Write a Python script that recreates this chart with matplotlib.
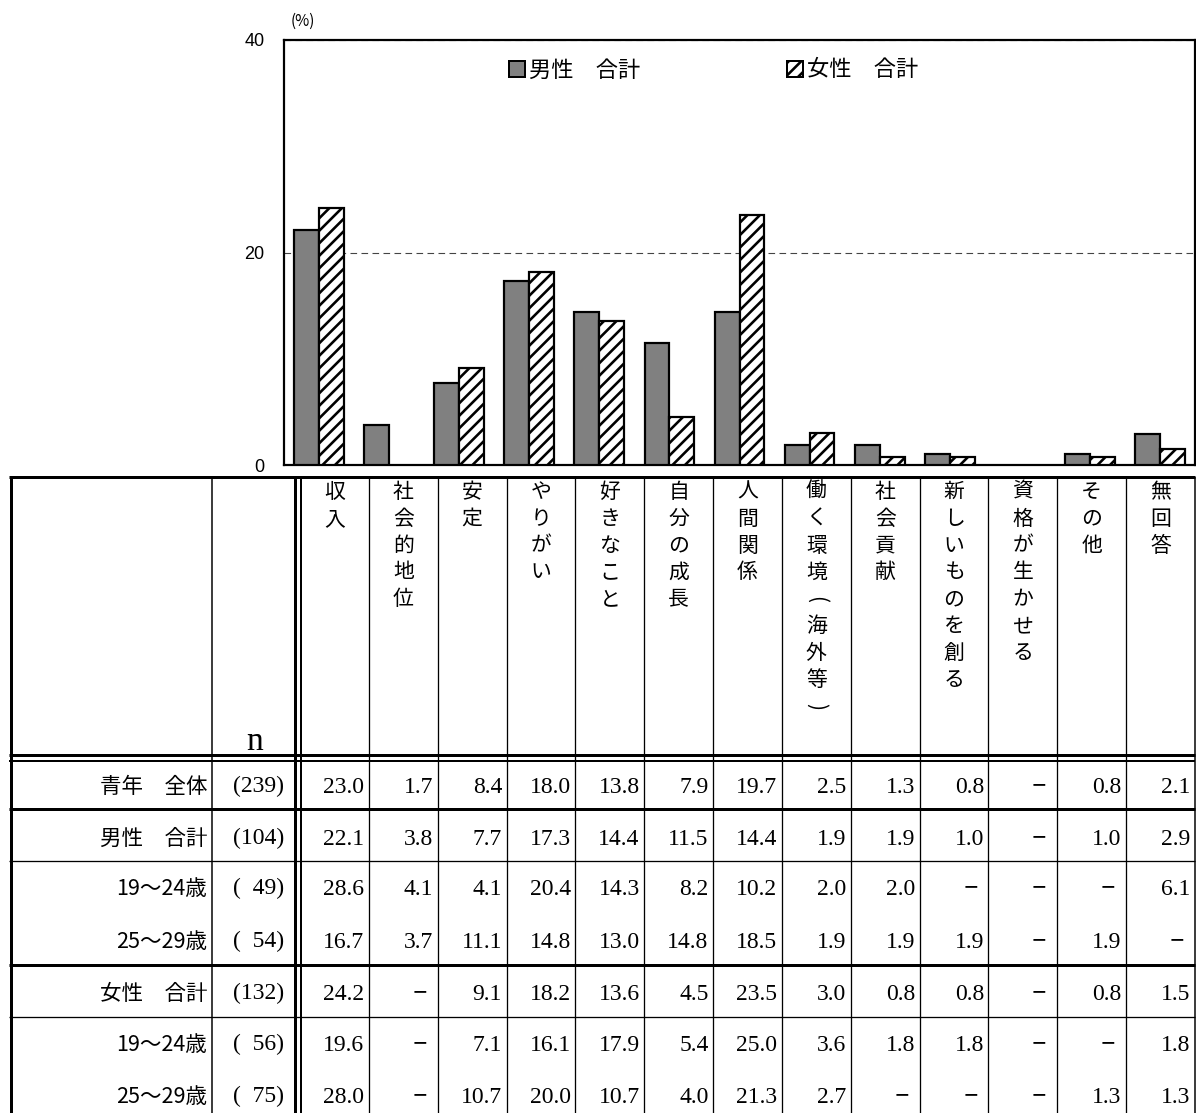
import matplotlib
matplotlib.use('Agg')
import matplotlib.pyplot as plt
import numpy as np
from matplotlib.patches import Patch

DPI = 75          # hatch spacing follows dpi; sizes below are scaled accordingly
K = 100 / DPI     # converts "points at 100 dpi" to points at DPI

def fs(s):
    return s * K

def px(w):
    return w * 72 / DPI

plt.rcParams['font.family'] = ['Noto Sans CJK JP', 'DejaVu Sans']
plt.rcParams['hatch.linewidth'] = px(2.6)

# ---------------- data ----------------
categories = ['収入', '社会的地位', '安定', 'やりがい', '好きなこと', '自分の成長', '人間関係',
              '働く環境（海外等）', '社会貢献', '新しいものを創る', '資格が生かせる', 'その他', '無回答']
row_labels = ['青年　全体', '男性　合計', '19～24歳', '25～29歳', '女性　合計', '19～24歳', '25～29歳']
n_values = [239, 104, 49, 54, 132, 56, 75]
total_all = [23.0, 1.7, 8.4, 18.0, 13.8, 7.9, 19.7, 2.5, 1.3, 0.8, None, 0.8, 2.1]
male_total = [22.1, 3.8, 7.7, 17.3, 14.4, 11.5, 14.4, 1.9, 1.9, 1.0, None, 1.0, 2.9]
male_19_24 = [28.6, 4.1, 4.1, 20.4, 14.3, 8.2, 10.2, 2.0, 2.0, None, None, None, 6.1]
male_25_29 = [16.7, 3.7, 11.1, 14.8, 13.0, 14.8, 18.5, 1.9, 1.9, 1.9, None, 1.9, None]
female_total = [24.2, None, 9.1, 18.2, 13.6, 4.5, 23.5, 3.0, 0.8, 0.8, None, 0.8, 1.5]
female_19_24 = [19.6, None, 7.1, 16.1, 17.9, 5.4, 25.0, 3.6, 1.8, 1.8, None, None, 1.8]
female_25_29 = [28.0, None, 10.7, 20.0, 10.7, 4.0, 21.3, 2.7, None, None, None, 1.3, 1.3]
table_rows = [total_all, male_total, male_19_24, male_25_29, female_total, female_19_24, female_25_29]
legend_labels = ['男性　合計', '女性　合計']
yticks = [0, 20, 40]
unit_label = '(%)'
n_header = 'n'

# ---------------- figure ----------------
W, H = 1196, 1113
fig = plt.figure(figsize=(W / DPI, H / DPI), dpi=DPI)

ax_left, ax_right, ax_top, ax_bot = 284, 1195, 40, 465
ax = fig.add_axes([ax_left / W, 1 - ax_bot / H, (ax_right - ax_left) / W, (ax_bot - ax_top) / H])

def to_arr(v):
    return np.array([np.nan if x is None else x for x in v], dtype=float)

x = np.arange(len(categories))
bw = 0.355
ax.bar(x - bw / 2, to_arr(male_total), bw, color='#808080', edgecolor='black', linewidth=px(2.2), zorder=3)
ax.bar(x + bw / 2, to_arr(female_total), bw, color='white', edgecolor='black', linewidth=px(2.2),
       hatch='//', zorder=3)

ax.set_xlim(-0.5, len(categories) - 0.5)
ax.set_ylim(yticks[0], yticks[-1])
ax.set_yticks(yticks)
ax.set_yticklabels([str(t) for t in yticks], fontfamily='Liberation Sans', fontsize=fs(13))
ax.set_xticks([])
ax.tick_params(axis='y', length=0, pad=fs(14))
ax.yaxis.grid(True, linestyle=(0, (6, 4)), color='#444444', linewidth=px(1.1))
ax.set_axisbelow(True)
for s in ax.spines.values():
    s.set_linewidth(px(2.2))
    s.set_color('black')

handles = [Patch(facecolor='#808080', edgecolor='black', linewidth=px(2)),
           Patch(facecolor='white', edgecolor='black', linewidth=px(2), hatch='//')]
ax.legend(handles, legend_labels, loc='center', bbox_to_anchor=(714 / W, 1 - 70 / H),
          bbox_transform=fig.transFigure, ncol=2, frameon=False, fontsize=fs(16),
          handlelength=0.7, handleheight=0.7, handletextpad=0.2, columnspacing=6.6)

fig.text(291 / W, 1 - 21 / H, unit_label, fontsize=fs(11), ha='left', va='center')

# ---------------- table ----------------
tax = fig.add_axes([0, 0, 1, 1])
tax.set_xlim(0, W)
tax.set_ylim(H, 0)
tax.axis('off')
tax.patch.set_visible(False)

tbl_left, tbl_right, tbl_top = 10.5, 1195, 476.5
data_left = 300
ncol = len(categories)
colw = (tbl_right - data_left) / ncol
col_edges = [data_left + colw * k for k in range(ncol + 1)]

def hline(y, lw):
    tax.plot([tbl_left - 1.5, tbl_right], [y, y], color='black', lw=px(lw), solid_capstyle='butt')

hline(tbl_top, 3)
hline(755, 3)
hline(760.5, 2)
hline(809, 3)
hline(861, 1.3)
hline(965, 3)
hline(1017, 1.3)

def vline(xx, lw):
    tax.plot([xx, xx], [tbl_top, H], color='black', lw=px(lw), solid_capstyle='butt')

vline(tbl_left, 3)
vline(212, 1.5)
vline(294.5, 3)
vline(300.5, 2)
for e in col_edges[1:-1]:
    vline(e, 1.3)
vline(tbl_right, 1.5)

# header vertical labels (vertical writing; brackets turned for vertical text)
turned = {'（': '(', '）': ')'}
for k, lab in enumerate(categories):
    cx = (col_edges[k] + col_edges[k + 1]) / 2
    for j, ch in enumerate(lab):
        yy = 492 + 26.8 * j
        if ch in turned:
            tax.text(cx, yy, turned[ch], fontsize=fs(15), ha='center', va='center', rotation=-90)
        else:
            tax.text(cx, yy, ch, fontsize=fs(15), ha='center', va='center')

tax.text(255, 750, n_header, fontsize=fs(24), fontfamily='Liberation Serif', ha='center', va='baseline')

row_y = [785, 837, 887, 940, 992, 1043, 1095]
for r, (lab, n, vals) in enumerate(zip(row_labels, n_values, table_rows)):
    y = row_y[r]
    tax.text(207, y + 8, lab, fontsize=fs(15.5), ha='right', va='baseline')
    ntxt = '(' + str(n).rjust(3).replace(' ', '  ') + ')'
    tax.text(284, y + 7.5, ntxt, fontsize=fs(17), fontfamily='Liberation Serif', ha='right', va='baseline')
    for k, v in enumerate(vals):
        re = col_edges[k + 1]
        if v is None:
            tax.text(re - 18, y, '－', fontsize=fs(12), fontweight='bold', ha='center', va='center')
        else:
            tax.text(re - 4.5, y + 7.8, f'{v:.1f}', fontsize=fs(17), fontfamily='Liberation Serif',
                     ha='right', va='baseline')

fig.savefig('out.png', dpi=DPI)
